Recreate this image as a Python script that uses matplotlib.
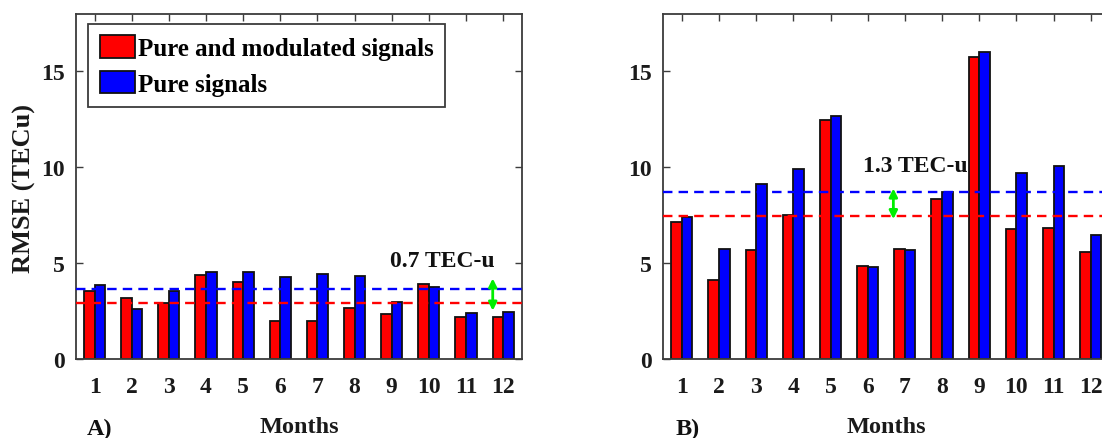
import matplotlib
matplotlib.use("Agg")
import matplotlib.pyplot as plt
import numpy as np

months = [1, 2, 3, 4, 5, 6, 7, 8, 9, 10, 11, 12]
month_labels = ["1", "2", "3", "4", "5", "6", "7", "8", "9", "10", "11", "12"]

# Panel A
a_mod = [3.55, 3.16, 2.93, 4.37, 4.00, 2.00, 1.96, 2.67, 2.32, 3.90, 2.20, 2.20]
a_pure = [3.86, 2.60, 3.56, 4.51, 4.56, 4.30, 4.44, 4.33, 2.99, 3.74, 2.38, 2.43]
a_mean_mod = 2.94
a_mean_pure = 3.67
a_note = "0.7 TEC-u"

# Panel B
b_mod = [7.15, 4.11, 5.68, 7.52, 12.48, 4.86, 5.76, 8.33, 15.76, 6.77, 6.84, 5.56]
b_pure = [7.38, 5.73, 9.10, 9.91, 12.69, 4.79, 5.69, 8.68, 16.02, 9.67, 10.05, 6.46]
b_mean_mod = 7.43
b_mean_pure = 8.73
b_note = "1.3 TEC-u"

legend_labels = ["Pure and modulated signals", "Pure signals"]
yticks = [0, 5, 10, 15]

FONT = "Liberation Serif"
plt.rcParams["font.family"] = [FONT, "DejaVu Serif"]
plt.rcParams["font.weight"] = "bold"

W, H = 1102, 439
fig = plt.figure(figsize=(W / 100, H / 100), dpi=100)
bottom = 1 - 360 / H
height = 345.3 / H
ax1 = fig.add_axes([76 / W, bottom, 445.7 / W, height])
ax2 = fig.add_axes([663.3 / W, bottom, 446 / W, height])

spine_col = "#3c3c3c"
bw = 0.285
x = np.array(months)


def draw(ax, mod, pure, mmod, mpure, note, note_xy, arrow_x, arrow_y, tag):
    b1 = ax.bar(x - bw / 2, mod, width=bw, color="#ff0000", edgecolor="#111111", linewidth=1.3, zorder=2)
    b2 = ax.bar(x + bw / 2, pure, width=bw, color="#0000ff", edgecolor="#111111", linewidth=1.3, zorder=2)
    ax.axhline(mpure, color="#0000ff", linestyle=(0, (4, 2.6)), linewidth=1.7, zorder=3)
    ax.axhline(mmod, color="#ff0000", linestyle=(0, (4, 2.6)), linewidth=1.7, zorder=3)
    ax.annotate("", xy=(arrow_x, arrow_y[1]), xytext=(arrow_x, arrow_y[0]),
                arrowprops=dict(arrowstyle="<|-|>", color="#00ee00", lw=2.0,
                                mutation_scale=12, shrinkA=0, shrinkB=0), zorder=4)
    ax.text(note_xy[0], note_xy[1], note, ha="center", va="center", fontsize=17,
            fontweight="bold", color="#111111", zorder=5)
    ax.set_xlim(0.5, 12.5)
    ax.set_ylim(0, 18)
    ax.set_xticks(months)
    ax.set_xticklabels(month_labels)
    ax.set_yticks(yticks)
    ax.tick_params(direction="in", top=True, right=True, length=5, width=1.0,
                   color=spine_col, labelsize=17, labelcolor="#1a1a1a")
    ax.tick_params(axis="x", pad=12)
    ax.tick_params(axis="y", pad=8)
    for lab in ax.get_xticklabels() + ax.get_yticklabels():
        lab.set_fontweight("bold")
    for s in ax.spines.values():
        s.set_color(spine_col)
        s.set_linewidth(1.3)
    ax.text(0.5, -0.195, "Months", transform=ax.transAxes, ha="center", va="center",
            fontsize=17.5, fontweight="bold", color="#1a1a1a")
    ax.text(tag[1], -0.2, tag[0], transform=ax.transAxes, ha="left", va="center",
            fontsize=17.5, fontweight="bold", color="#111111")
    return b1, b2


b1, b2 = draw(ax1, a_mod, a_pure, a_mean_mod, a_mean_pure, a_note, (10.37, 5.12),
              11.72, (2.52, 4.2), ("A)", 0.024))
draw(ax2, b_mod, b_pure, b_mean_mod, b_mean_pure, b_note, (7.27, 10.07),
     6.69, (7.29, 8.89), ("B)", 0.0285))

leg = ax1.legend([b1, b2], legend_labels, loc="upper left", bbox_to_anchor=(0.0276, 0.970),
                 borderaxespad=0, handlelength=1.4, handleheight=1.02,
                 handletextpad=0.15, labelspacing=0.42, borderpad=0.45, fancybox=False,
                 framealpha=1, edgecolor=spine_col, prop={"family": FONT, "weight": "bold", "size": 18})
leg.get_frame().set_linewidth(1.3)

fig.text(24 / W, 1 - 188.3 / H, "RMSE (TECu)", rotation=90, ha="center", va="center",
         fontsize=19, fontweight="bold", color="#1a1a1a")

fig.savefig("out.png", dpi=100)
